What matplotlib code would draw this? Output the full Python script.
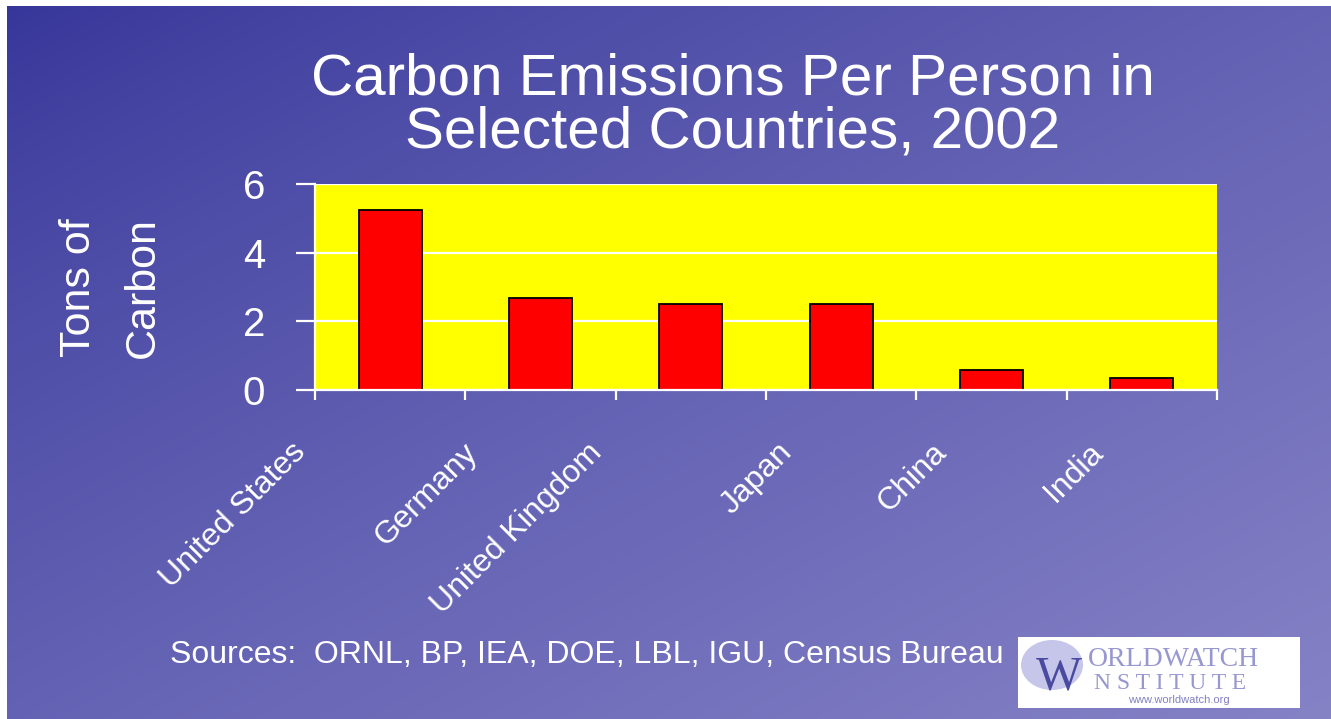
import numpy as np
import matplotlib
matplotlib.use("Agg")
import matplotlib.pyplot as plt
import matplotlib.patches as mpatches
from matplotlib.transforms import ScaledTranslation

plt.rcParams['font.family'] = ['Liberation Sans', 'DejaVu Sans']

countries = ["United States", "Germany", "United Kingdom", "Japan", "China", "India"]
tons_carbon = [5.25, 2.68, 2.5, 2.5, 0.58, 0.35]
y_ticks = [0, 2, 4, 6]

title = "Carbon Emissions Per Person in\nSelected Countries, 2002"
ylabel = "Tons of\nCarbon"
source = "Sources:  ORNL, BP, IEA, DOE, LBL, IGU, Census Bureau"

# label shifts (px) to mimic the slide's odd label placement
label_shift = [-100, -78, -104, -64, -60, -54]

W, H = 1331, 719
fig = plt.figure(figsize=(W / 100, H / 100), dpi=100, facecolor='white')

# gradient background (white strip on top and left like the slide capture)
bg = fig.add_axes([7 / W, 0, 1 - 7 / W, 1 - 6 / H], zorder=-10)
u = np.linspace(0, 1, 400)
v = np.linspace(0, 1, 220)
uu, vv = np.meshgrid(u, v)
t = ((uu + vv) / 2) ** 0.8
c0 = np.array([54, 54, 154]) / 255
c1 = np.array([133, 130, 198]) / 255
img = c0[None, None, :] + (c1 - c0)[None, None, :] * t[:, :, None]
bg.imshow(img, aspect='auto', extent=[0, 1, 1, 0], interpolation='bilinear')
bg.set_xlim(0, 1)
bg.set_ylim(1, 0)
bg.axis('off')

ax = fig.add_axes([315 / W, 1 - 390 / H, (1217 - 315) / W, (390 - 184) / H])
ax.set_facecolor('#ffff00')
x = np.arange(len(countries))
ax.bar(x, tons_carbon, width=0.42, color='#ff0000', edgecolor='black',
       linewidth=1.3, zorder=3)

ax.set_xlim(-0.5, len(countries) - 0.5)
ax.set_ylim(0, 6)
ax.set_yticks(y_ticks)
ax.set_yticklabels([str(v) for v in y_ticks])
ax.yaxis.grid(True, color='white', linewidth=1.6, zorder=1)
ax.set_axisbelow(True)

for side in ['top', 'right']:
    ax.spines[side].set_visible(False)
for side in ['left', 'bottom']:
    ax.spines[side].set_color('white')
    ax.spines[side].set_linewidth(1.6)
    ax.spines[side].set_zorder(4)

ax.tick_params(axis='y', direction='out', length=14, width=1.6, color='white',
               labelcolor='white', labelsize=29, pad=22)

ax.set_xticks(x)
ax.set_xticks(np.arange(-0.5, len(countries)), minor=True)
ax.tick_params(axis='x', which='major', length=0, pad=34, labelcolor='white',
               labelsize=23)
ax.tick_params(axis='x', which='minor', direction='out', length=7, width=1.6,
               color='white')
ax.set_xticklabels(countries, rotation=45, ha='right', va='top',
                   rotation_mode='anchor')
for lab, dx in zip(ax.get_xticklabels(), label_shift):
    lab.set_transform(lab.get_transform() +
                      ScaledTranslation(dx / 100, 0, fig.dpi_scale_trans))

fig.text(111 / W, 1 - 288 / H, ylabel, rotation=90, color='white', fontsize=31,
         ha='center', va='center', multialignment='center', linespacing=1.75)

fig.text(733 / W, 1 - 106 / H, title, color='white', fontsize=42,
         ha='center', va='center', multialignment='center', linespacing=0.96)

fig.text(170 / W, 1 - 663 / H, source, color='white', fontsize=23,
         ha='left', va='baseline')

# Worldwatch logo box
lx0, ly0, lw, lh = 1018 / W, 1 - 708 / H, 282 / W, 71 / H
logo = mpatches.Rectangle((lx0, ly0), lw, lh, transform=fig.transFigure,
                          facecolor='white', edgecolor='none', zorder=5)
fig.patches.append(logo)
blob = mpatches.Ellipse((1052 / W, 1 - 665 / H), 62 / W, 50 / H,
                        transform=fig.transFigure, facecolor='#b8b8e6',
                        edgecolor='none', alpha=0.8, zorder=6)
fig.patches.append(blob)
fig.text(1036 / W, 1 - 690 / H, "W", fontsize=35, family='Liberation Serif',
         color='#4a4aa0', zorder=7, va='baseline')
t1 = fig.text(1088 / W, 1 - 666 / H, "ORLDWATCH", fontsize=20,
              family='Liberation Serif', color='#9898d0', zorder=7, va='baseline')
t2 = fig.text(1094 / W, 1 - 689 / H, "N S T I T U T E", fontsize=17,
              family='Liberation Serif', color='#9898d0', zorder=7, va='baseline')
t3 = fig.text(1128 / W, 1 - 703 / H, "www.worldwatch.org", fontsize=8,
              color='#8080c0', zorder=7, va='baseline')
for tt in (t1, t2, t3):
    tt.set_clip_path(logo)

fig.savefig("out.png", dpi=100, facecolor=fig.get_facecolor())
